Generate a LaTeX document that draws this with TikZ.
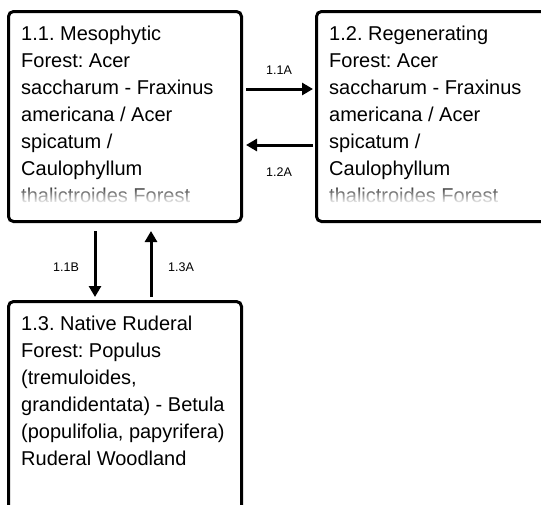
\documentclass[tikz,border=0pt]{standalone}
\usepackage{fontspec}
\setmainfont{Liberation Sans}
\usetikzlibrary{arrows.meta,fadings}
\tikzfading[name=fadedown, top color=transparent!100, bottom color=transparent!0]
\frenchspacing
\begin{document}
\begin{tikzpicture}[x=1pt,y=-1pt,
  box/.style={draw=black, line width=3pt, rounded corners=5pt, minimum width=233pt, minimum height=210pt, anchor=north west, inner sep=0pt},
  txt/.style={anchor=north west, align=left, inner sep=0pt, font=\fontsize{20}{27}\selectfont},
  arr/.style={line width=3pt, -{Triangle[length=11pt,width=12pt]}},
  lbl/.style={font=\fontsize{12.5}{14}\selectfont, inner sep=0pt}]
\useasboundingbox (0,0) rectangle (541,504);
\begin{scope}
\clip (0,0) rectangle (541,504);
\node[box] (b1) at (7,10) {};
\node[box] (b2) at (315,10) {};
\node[box] (b3) at (7,300) {};
\node[txt] (t1) at (21,26) {1.1. Mesophytic\\Forest: Acer\\saccharum - Fraxinus\\americana / Acer\\spicatum /\\Caulophyllum\\thalictroides Forest};
\node[txt] (t2) at (329,26) {1.2. Regenerating\\Forest: Acer\\saccharum - Fraxinus\\americana / Acer\\spicatum /\\Caulophyllum\\thalictroides Forest};
\node[txt] (t3) at (21,316) {1.3. Native Ruderal\\Forest: Populus\\(tremuloides,\\grandidentata) - Betula\\(populifolia, papyrifera)\\Ruderal Woodland};
\fill[white, path fading=fadedown] (12,182) rectangle (236,204);
\fill[white, path fading=fadedown] (320,182) rectangle (540,204);
\end{scope}
\coordinate (ya) at (0,89);
\coordinate (yb) at (0,145);
\coordinate (xa) at (95,0);
\coordinate (xb) at (151,0);
\draw[arr, shorten <=3pt, shorten >=2pt] (b1.east |- ya) -- (b2.west |- ya);
\draw[arr, shorten <=2pt, shorten >=3pt] (b2.west |- yb) -- (b1.east |- yb);
\draw[arr, shorten <=8pt, shorten >=3pt] (b1.south -| xa) -- (b3.north -| xa);
\draw[arr, shorten <=3pt, shorten >=8pt] (b3.north -| xb) -- (b1.south -| xb);
\node[lbl] (l1) at (279,70) {1.1A};
\node[lbl] (l2) at (279,172) {1.2A};
\node[lbl] (l3) at (66,267) {1.1B};
\node[lbl] (l4) at (181,267) {1.3A};
\end{tikzpicture}
\end{document}
